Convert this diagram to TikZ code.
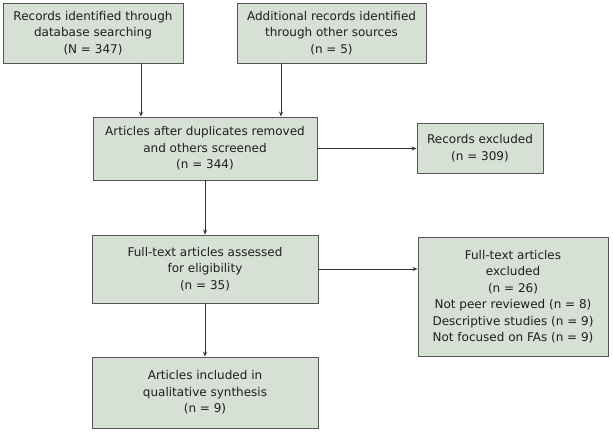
\documentclass[tikz,border=0pt]{standalone}
\usepackage{fontspec}
\setmainfont{DejaVu Sans}
\usetikzlibrary{arrows.meta}
\definecolor{boxfill}{RGB}{214,224,213}
\definecolor{boxdraw}{RGB}{85,85,85}
\definecolor{txt}{RGB}{30,30,30}
\tikzset{
  box/.style={draw=boxdraw, fill=boxfill, line width=0.9pt, align=center, text=txt,
    font=\fontsize{12}{16.5}\selectfont, inner sep=0pt},
  arr/.style={draw=black!80, line width=0.8pt, -{Stealth[length=5pt,width=4pt]}}
}
\begin{document}
\begin{tikzpicture}[x=1pt,y=-1pt]
\useasboundingbox (0,0) rectangle (613,431);
\node[box, minimum width=180pt, minimum height=60pt] (b1) at (93,33)
  {Records identified through\\database searching\\(N = 347)};
\node[box, minimum width=189pt, minimum height=60pt] (b2) at (331.5,33)
  {Additional records identified\\through other sources\\(n = 5)};
\node[box, minimum width=224pt, minimum height=63pt] (b3) at (205,148.5)
  {Articles after duplicates removed\\and others screened\\(n = 344)};
\node[box, minimum width=126pt, minimum height=50pt] (ex1) at (480,148)
  {Records excluded\\(n = 309)};
\node[box, minimum width=226pt, minimum height=68pt] (ft) at (205,269)
  {Full-text articles assessed\\for eligibility\\(n = 35)};
\node[box, minimum width=190pt, minimum height=119pt] (ftx) at (513,296.5)
  {Full-text articles\\excluded\\(n = 26)\\Not peer reviewed (n = 8)\\Descriptive studies (n = 9)\\Not focused on FAs (n = 9)};
\node[box, minimum width=226pt, minimum height=71pt] (inc) at (205,392.5)
  {Articles included in\\qualitative synthesis\\(n = 9)};
\draw[arr] ([xshift=48pt]b1.south) -- ([xshift=48pt]b1.south |- b3.north);
\draw[arr] ([xshift=-50.5pt]b2.south) -- ([xshift=-50.5pt]b2.south |- b3.north);
\draw[arr] (b3.east) -- (b3.east -| ex1.west);
\draw[arr] (b3.south) -- (ft.north);
\draw[arr] (ft.east) -- (ft.east -| ftx.west);
\draw[arr] (ft.south) -- (inc.north);
\end{tikzpicture}
\end{document}
